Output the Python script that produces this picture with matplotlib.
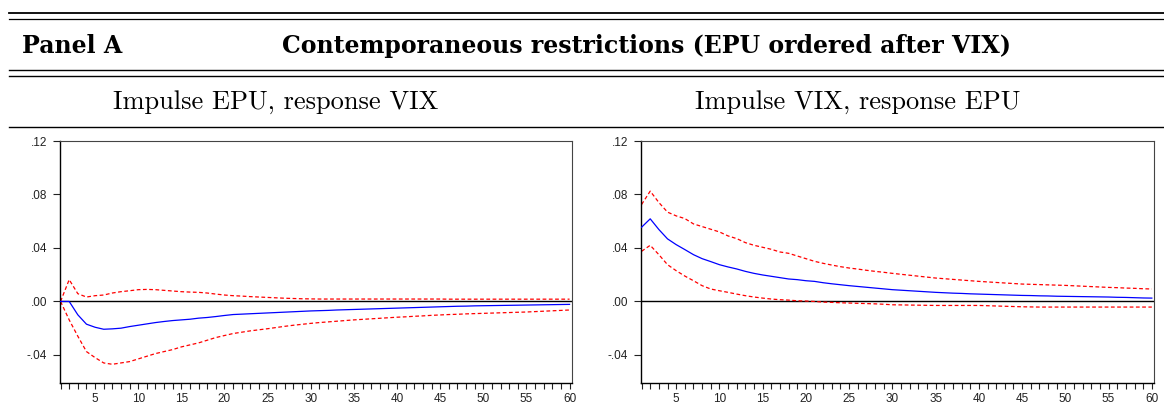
import matplotlib
matplotlib.use("Agg")
import matplotlib.pyplot as plt
from matplotlib.ticker import FixedLocator, FuncFormatter, MultipleLocator

# horizons 1..60
periods = list(range(1, 61))

# Impulse EPU, response VIX
vix_resp = [0.0, 0.0, -0.0100, -0.0170, -0.0193, -0.0208, -0.0205, -0.0200, -0.0188, -0.0178,
            -0.0168, -0.0158, -0.0150, -0.0143, -0.0138, -0.0133, -0.0125, -0.0120, -0.0113, -0.0105,
            -0.0098, -0.0095, -0.0092, -0.0089, -0.0086, -0.0083, -0.0080, -0.0077, -0.0074, -0.0071,
            -0.0069, -0.0067, -0.0064, -0.0062, -0.0060, -0.0058, -0.0056, -0.0054, -0.0052, -0.0050,
            -0.0048, -0.0046, -0.0044, -0.0042, -0.0040, -0.0038, -0.0036, -0.0035, -0.0033, -0.0032,
            -0.0031, -0.0030, -0.0029, -0.0028, -0.0027, -0.0026, -0.0025, -0.0024, -0.0023, -0.0022]
vix_upper = [0.0, 0.0163, 0.0058, 0.0033, 0.0043, 0.0048, 0.0063, 0.0073, 0.0080, 0.0088,
             0.0090, 0.0088, 0.0083, 0.0078, 0.0073, 0.0070, 0.0068, 0.0063, 0.0055, 0.0048,
             0.0043, 0.0040, 0.0036, 0.0033, 0.0030, 0.0027, 0.0024, 0.0022, 0.0020, 0.0019,
             0.0018, 0.0018, 0.0018, 0.0018, 0.0018, 0.0018, 0.0018, 0.0018, 0.0018, 0.0018,
             0.0018, 0.0018, 0.0018, 0.0018, 0.0018, 0.0017, 0.0017, 0.0017, 0.0017, 0.0017,
             0.0017, 0.0017, 0.0017, 0.0017, 0.0017, 0.0017, 0.0017, 0.0017, 0.0017, 0.0017]
vix_lower = [0.0, -0.0138, -0.0260, -0.0375, -0.0420, -0.0460, -0.0470, -0.0460, -0.0450, -0.0430,
             -0.0410, -0.0390, -0.0375, -0.0360, -0.0340, -0.0325, -0.0310, -0.0290, -0.0270, -0.0255,
             -0.0240, -0.0230, -0.0220, -0.0212, -0.0204, -0.0195, -0.0186, -0.0178, -0.0171, -0.0164,
             -0.0158, -0.0153, -0.0148, -0.0143, -0.0138, -0.0134, -0.0130, -0.0126, -0.0122, -0.0118,
             -0.0115, -0.0111, -0.0108, -0.0104, -0.0101, -0.0098, -0.0096, -0.0093, -0.0091, -0.0089,
             -0.0087, -0.0085, -0.0083, -0.0081, -0.0079, -0.0076, -0.0073, -0.0070, -0.0067, -0.0064]

# Impulse VIX, response EPU
epu_resp = [0.0555, 0.0618, 0.0538, 0.0468, 0.0425, 0.0388, 0.0350, 0.0320, 0.0298, 0.0275,
            0.0258, 0.0243, 0.0225, 0.0210, 0.0198, 0.0188, 0.0178, 0.0168, 0.0163, 0.0155,
            0.0150, 0.0140, 0.0132, 0.0125, 0.0118, 0.0112, 0.0106, 0.0100, 0.0094, 0.0088,
            0.0084, 0.0080, 0.0076, 0.0072, 0.0068, 0.0065, 0.0062, 0.0060, 0.0057, 0.0055,
            0.0053, 0.0051, 0.0049, 0.0047, 0.0045, 0.0044, 0.0042, 0.0041, 0.0039, 0.0038,
            0.0037, 0.0036, 0.0035, 0.0034, 0.0033, 0.0031, 0.0030, 0.0028, 0.0026, 0.0025]
epu_upper = [0.0725, 0.0825, 0.0740, 0.0668, 0.0640, 0.0620, 0.0580, 0.0560, 0.0540, 0.0520,
             0.0490, 0.0470, 0.0440, 0.0420, 0.0405, 0.0390, 0.0370, 0.0360, 0.0340, 0.0320,
             0.0300, 0.0285, 0.0272, 0.0260, 0.0250, 0.0242, 0.0233, 0.0225, 0.0218, 0.0210,
             0.0203, 0.0196, 0.0189, 0.0182, 0.0175, 0.0170, 0.0165, 0.0160, 0.0155, 0.0150,
             0.0146, 0.0142, 0.0138, 0.0134, 0.0130, 0.0128, 0.0126, 0.0124, 0.0122, 0.0120,
             0.0117, 0.0114, 0.0111, 0.0108, 0.0105, 0.0103, 0.0100, 0.0098, 0.0095, 0.0093]
epu_lower = [0.0375, 0.0420, 0.0350, 0.0275, 0.0230, 0.0190, 0.0155, 0.0118, 0.0093, 0.0080,
             0.0068, 0.0055, 0.0043, 0.0033, 0.0025, 0.0018, 0.0013, 0.0010, 0.0005, 0.0003,
             0.0000, -0.0005, -0.0007, -0.0010, -0.0012, -0.0014, -0.0016, -0.0018, -0.0021, -0.0025,
             -0.0026, -0.0027, -0.0028, -0.0029, -0.0030, -0.0030, -0.0030, -0.0030, -0.0030, -0.0030,
             -0.0032, -0.0034, -0.0036, -0.0038, -0.0040, -0.0041, -0.0042, -0.0042, -0.0042, -0.0042,
             -0.0042, -0.0042, -0.0042, -0.0042, -0.0042, -0.0042, -0.0042, -0.0042, -0.0042, -0.0042]

panel_label = "Panel A"
panel_title = "Contemporaneous restrictions (EPU ordered after VIX)"
subtitles = ["Impulse EPU, response VIX", "Impulse VIX, response EPU"]
y_ticks = [-0.04, 0.00, 0.04, 0.08, 0.12]


def eviews_fmt(v, pos):
    s = "%.2f" % v
    if s.startswith("-0"):
        return "-" + s[2:]
    return s[1:] if s.startswith("0") else s


fig = plt.figure(figsize=(11.64, 4.17), dpi=100)

# rules of the table (page-style header)
H = 417.0
for y, lw in [(12.5, 1.3), (19, 0.9), (69.5, 1.0), (76, 1.0), (127, 1.0)]:
    fig.add_artist(plt.Line2D([9 / 1164, 1.0], [1 - y / H, 1 - y / H], color="black", lw=lw))

bold_font = dict(family="DejaVu Serif", weight="bold", fontsize=17)
fig.text(22 / 1164, 1 - 46 / H, panel_label, va="center", ha="left", **bold_font)
fig.text(646 / 1164, 1 - 46 / H, panel_title, va="center", ha="center", **bold_font)
fig.text(276 / 1164, 1 - 102 / H, subtitles[0], family="cmr10", fontsize=19, va="center", ha="center")
fig.text(858 / 1164, 1 - 102 / H, subtitles[1], family="cmr10", fontsize=19, va="center", ha="center")

ax_l = fig.add_axes([59.7 / 1164, 1 - 383 / H, 512 / 1164, 242 / H])
ax_r = fig.add_axes([640.7 / 1164, 1 - 383 / H, 513.3 / 1164, 242 / H])

for ax, resp, up, lo in [(ax_l, vix_resp, vix_upper, vix_lower),
                         (ax_r, epu_resp, epu_upper, epu_lower)]:
    ax.axhline(0, color="black", lw=1.0, zorder=1)
    ax.plot(periods, up, color="red", lw=0.9, ls=(0, (3, 2)), zorder=2)
    ax.plot(periods, lo, color="red", lw=0.9, ls=(0, (3, 2)), zorder=2)
    ax.plot(periods, resp, color="blue", lw=0.9, zorder=3)
    ax.set_xlim(0.9, 60.25)
    ax.set_ylim(-0.061, 0.12)
    ax.xaxis.set_major_locator(FixedLocator(list(range(5, 61, 5))))
    ax.xaxis.set_minor_locator(MultipleLocator(1))
    ax.yaxis.set_major_locator(FixedLocator(y_ticks))
    ax.yaxis.set_major_formatter(FuncFormatter(eviews_fmt))
    ax.tick_params(axis="both", which="both", direction="out", length=4, width=0.8,
                   labelsize=8.5, colors="#222222")
    ax.tick_params(axis="y", which="major", length=5, pad=4)
    ax.tick_params(axis="x", which="major", pad=3)
    for lab in ax.get_xticklabels() + ax.get_yticklabels():
        lab.set_family("Liberation Sans")
    for side in ["left", "bottom"]:
        ax.spines[side].set_linewidth(1.0)
    for side in ["top", "right"]:
        ax.spines[side].set_linewidth(0.8)
        ax.spines[side].set_color("#444444")

fig.savefig("out.png", dpi=100)
